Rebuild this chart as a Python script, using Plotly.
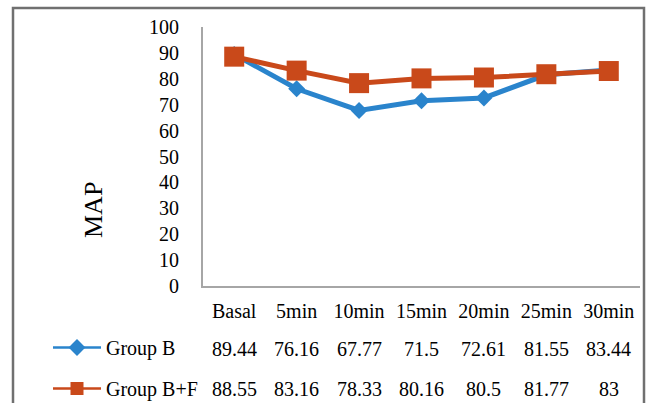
import plotly.graph_objects as go

categories = ["Basal", "5min", "10min", "15min", "20min", "25min", "30min"]
group_b = [89.44, 76.16, 67.77, 71.5, 72.61, 81.55, 83.44]
group_bf = [88.55, 83.16, 78.33, 80.16, 80.5, 81.77, 83]
series_names = ["Group B", "Group B+F"]
y_ticks = [0, 10, 20, 30, 40, 50, 60, 70, 80, 90, 100]
y_title = "MAP"

BLUE = "#2A84CC"
ORANGE = "#C9491A"
FONT = "Liberation Serif"
W, H = 646, 403
L, R, T, B = 203, 6, 27, 117
PW, PH = W - L - R, H - T - B


def px_x(px):
    return (px - L) / PW


def px_y(py):
    return (H - B - py) / PH


fig = go.Figure()
styles = [(group_b, BLUE, "diamond", 13), (group_bf, ORANGE, "square", 20)]
for name, (vals, col, sym, sz) in zip(series_names, styles):
    fig.add_trace(go.Scatter(
        x=categories, y=vals, mode="lines+markers", name=name,
        line=dict(color=col, width=5), marker=dict(symbol=sym, size=sz, color=col),
        showlegend=False, cliponaxis=False,
    ))
# legend keys (thin line, like the data-table legend of the original)
for i, (name, (vals, col, sym, sz)) in enumerate(zip(series_names, styles)):
    fig.add_trace(go.Scatter(
        x=[None], y=[None], mode="lines+markers", name=name, legendgroup=str(i),
        line=dict(color=col, width=2.5), marker=dict(symbol=sym, size=13, color=col),
        showlegend=True,
    ))

# data table values
row_y = [px_y(349), px_y(389)]
for vals, ry in zip([group_b, group_bf], row_y):
    for c, v in zip(categories, vals):
        fig.add_annotation(x=c, y=ry, xref="x", yref="paper", text=f"{v:g}",
                           showarrow=False, font=dict(family=FONT, size=20, color="black"),
                           xanchor="center", yanchor="middle")

fig.add_annotation(x=px_x(94), y=px_y(210), xref="paper", yref="paper", text=y_title,
                   textangle=-90, showarrow=False,
                   font=dict(family=FONT, size=26, color="black"),
                   xanchor="center", yanchor="middle")

# outer chart border
fig.add_shape(type="rect", xref="paper", yref="paper",
              x0=px_x(13), x1=px_x(644), y0=px_y(420), y1=px_y(8),
              line=dict(color="#707070", width=2.5), fillcolor="rgba(0,0,0,0)", layer="below")

fig.update_layout(
    width=W, height=H,
    margin=dict(l=L, r=R, t=T, b=B, autoexpand=False),
    paper_bgcolor="white", plot_bgcolor="white",
    font=dict(family=FONT, size=20, color="black"),
    legend=dict(x=px_x(48), y=px_y(328), xanchor="left", yanchor="top",
                font=dict(family=FONT, size=20, color="black"),
                tracegroupgap=12, itemwidth=48, bgcolor="rgba(0,0,0,0)"),
    xaxis=dict(type="category", categoryorder="array", categoryarray=categories,
               range=[-0.5, len(categories) - 0.5], automargin=False,
               showline=True, linecolor="#A6A6A6", linewidth=2, showgrid=False,
               zeroline=False, ticks="", ticklabelstandoff=6,
               tickfont=dict(family=FONT, size=20, color="black")),
    yaxis=dict(range=[0, 100], tickvals=y_ticks, showline=True, linecolor="#A6A6A6",
               linewidth=2, showgrid=False, zeroline=False, ticks="", automargin=False,
               ticklabelstandoff=18,
               tickfont=dict(family=FONT, size=20, color="black")),
)

fig.write_html("out.html", config={"displayModeBar": False},
               post_script="document.body.style.margin='0px';document.body.style.overflow='hidden';")
